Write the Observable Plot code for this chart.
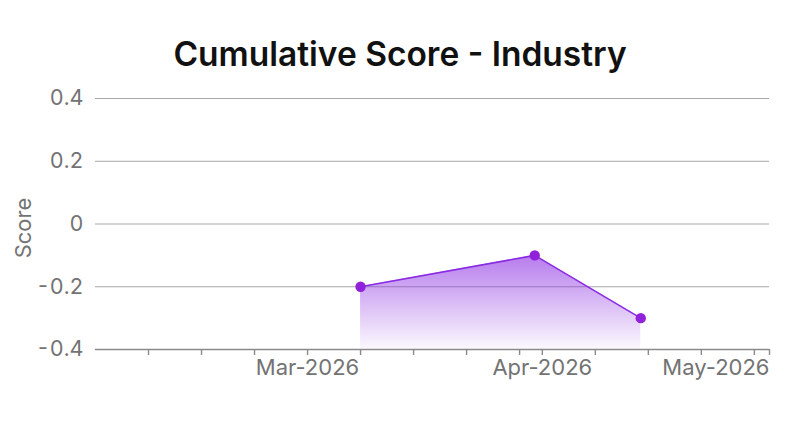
<!DOCTYPE html>
<html>
<head>
<meta charset="utf-8">
<script src="https://cdn.jsdelivr.net/npm/d3@7"></script>
<script src="https://cdn.jsdelivr.net/npm/@observablehq/plot@0.6"></script>
<style>
  html, body { margin: 0; padding: 0; background: #fff; }
  body { width: 800px; height: 431px; overflow: hidden; font-family: Inter, "Noto Sans", sans-serif; }
  #title { height: 85px; box-sizing: border-box; padding-top: 38px; text-align: center; font-size: 33.5px; line-height: 33px; font-weight: 600; color: #111; }
</style>
</head>
<body>
<div id="title">Cumulative Score - Industry</div>
<div id="chart"></div>
<script>
// ---- data ----
const dates = ["2026-03-08", "2026-03-31", "2026-04-14"];
const scores = [-0.2, -0.1, -0.3];
const yTicks = [-0.4, -0.2, 0, 0.2, 0.4];
const xDomain = ["2026-02-01", "2026-05-01"];
const xTickDates = ["2026-02-08", "2026-02-15", "2026-02-22", "2026-03-01", "2026-03-08", "2026-03-15",
  "2026-03-22", "2026-03-29", "2026-04-01", "2026-04-08", "2026-04-15", "2026-04-22", "2026-04-29", "2026-05-01"];
const monthDates = ["2026-03-01", "2026-04-01", "2026-05-01"];
const monthLabels = ["Mar-2026", "Apr-2026", "May-2026"];
const yLabel = "Score";

// ---- build ----
const data = dates.map((d, i) => ({date: new Date(d), score: scores[i]}));
const months = monthDates.map((d, i) => ({date: new Date(d), label: monthLabels[i]}));
const base = d3.min(yTicks);
const purple = "#8a2be2";

const defs = () => {
  const d = d3.create("svg:defs");
  const g = d.append("linearGradient").attr("id", "areaGrad")
    .attr("x1", 0).attr("x2", 0).attr("y1", 0).attr("y2", 1);
  g.append("stop").attr("offset", "0%").attr("stop-color", purple).attr("stop-opacity", 0.62);
  g.append("stop").attr("offset", "100%").attr("stop-color", purple).attr("stop-opacity", 0.03);
  return d.node();
};

const chart = Plot.plot({
  width: 800,
  height: 346,
  marginTop: 13,
  marginBottom: 82,
  marginLeft: 95,
  marginRight: 31,
  style: {fontFamily: "Inter, 'Noto Sans', sans-serif", fontSize: "22px", background: "#fff"},
  x: {type: "utc", domain: xDomain.map(d => new Date(d))},
  y: {domain: [d3.min(yTicks), d3.max(yTicks)]},
  marks: [
    defs,
    Plot.ruleY(yTicks.filter(t => t !== base), {stroke: "#a8a8a8", strokeWidth: 1}),
    Plot.areaY(data, {x: "date", y1: base, y2: "score", fill: "url(#areaGrad)"}),
    Plot.lineY(data, {x: "date", y: "score", stroke: purple, strokeWidth: 1.6}),
    Plot.dot(data, {x: "date", y: "score", r: 5.2, fill: "#9022dc", stroke: "none"}),
    Plot.ruleY([base], {stroke: "#8a8a8a", strokeWidth: 1.6}),
    Plot.axisX(xTickDates.map(d => new Date(d)), {tickSize: 6, stroke: "#8a8a8a", strokeWidth: 1.4, tickFormat: () => "", label: null}),
    Plot.text(months.slice(0, -1), {x: "date", text: "label", frameAnchor: "bottom", dy: 25, fill: "#737373", fontSize: 22}),
    Plot.text(months.slice(-1), {x: "date", text: "label", frameAnchor: "bottom", dy: 25, textAnchor: "end", fill: "#737373", fontSize: 22}),
    Plot.axisY(yTicks, {tickSize: 0, tickPadding: 12, tickFormat: d => String(d), fill: "#737373", fontSize: 21.5, label: null}),
    Plot.text([yLabel], {text: d => d, frameAnchor: "left", textAnchor: "middle", dx: -72, dy: 4, rotate: -90, fill: "#737373", fontSize: 22})
  ]
});
document.getElementById("chart").appendChild(chart);
</script>
</body>
</html>
